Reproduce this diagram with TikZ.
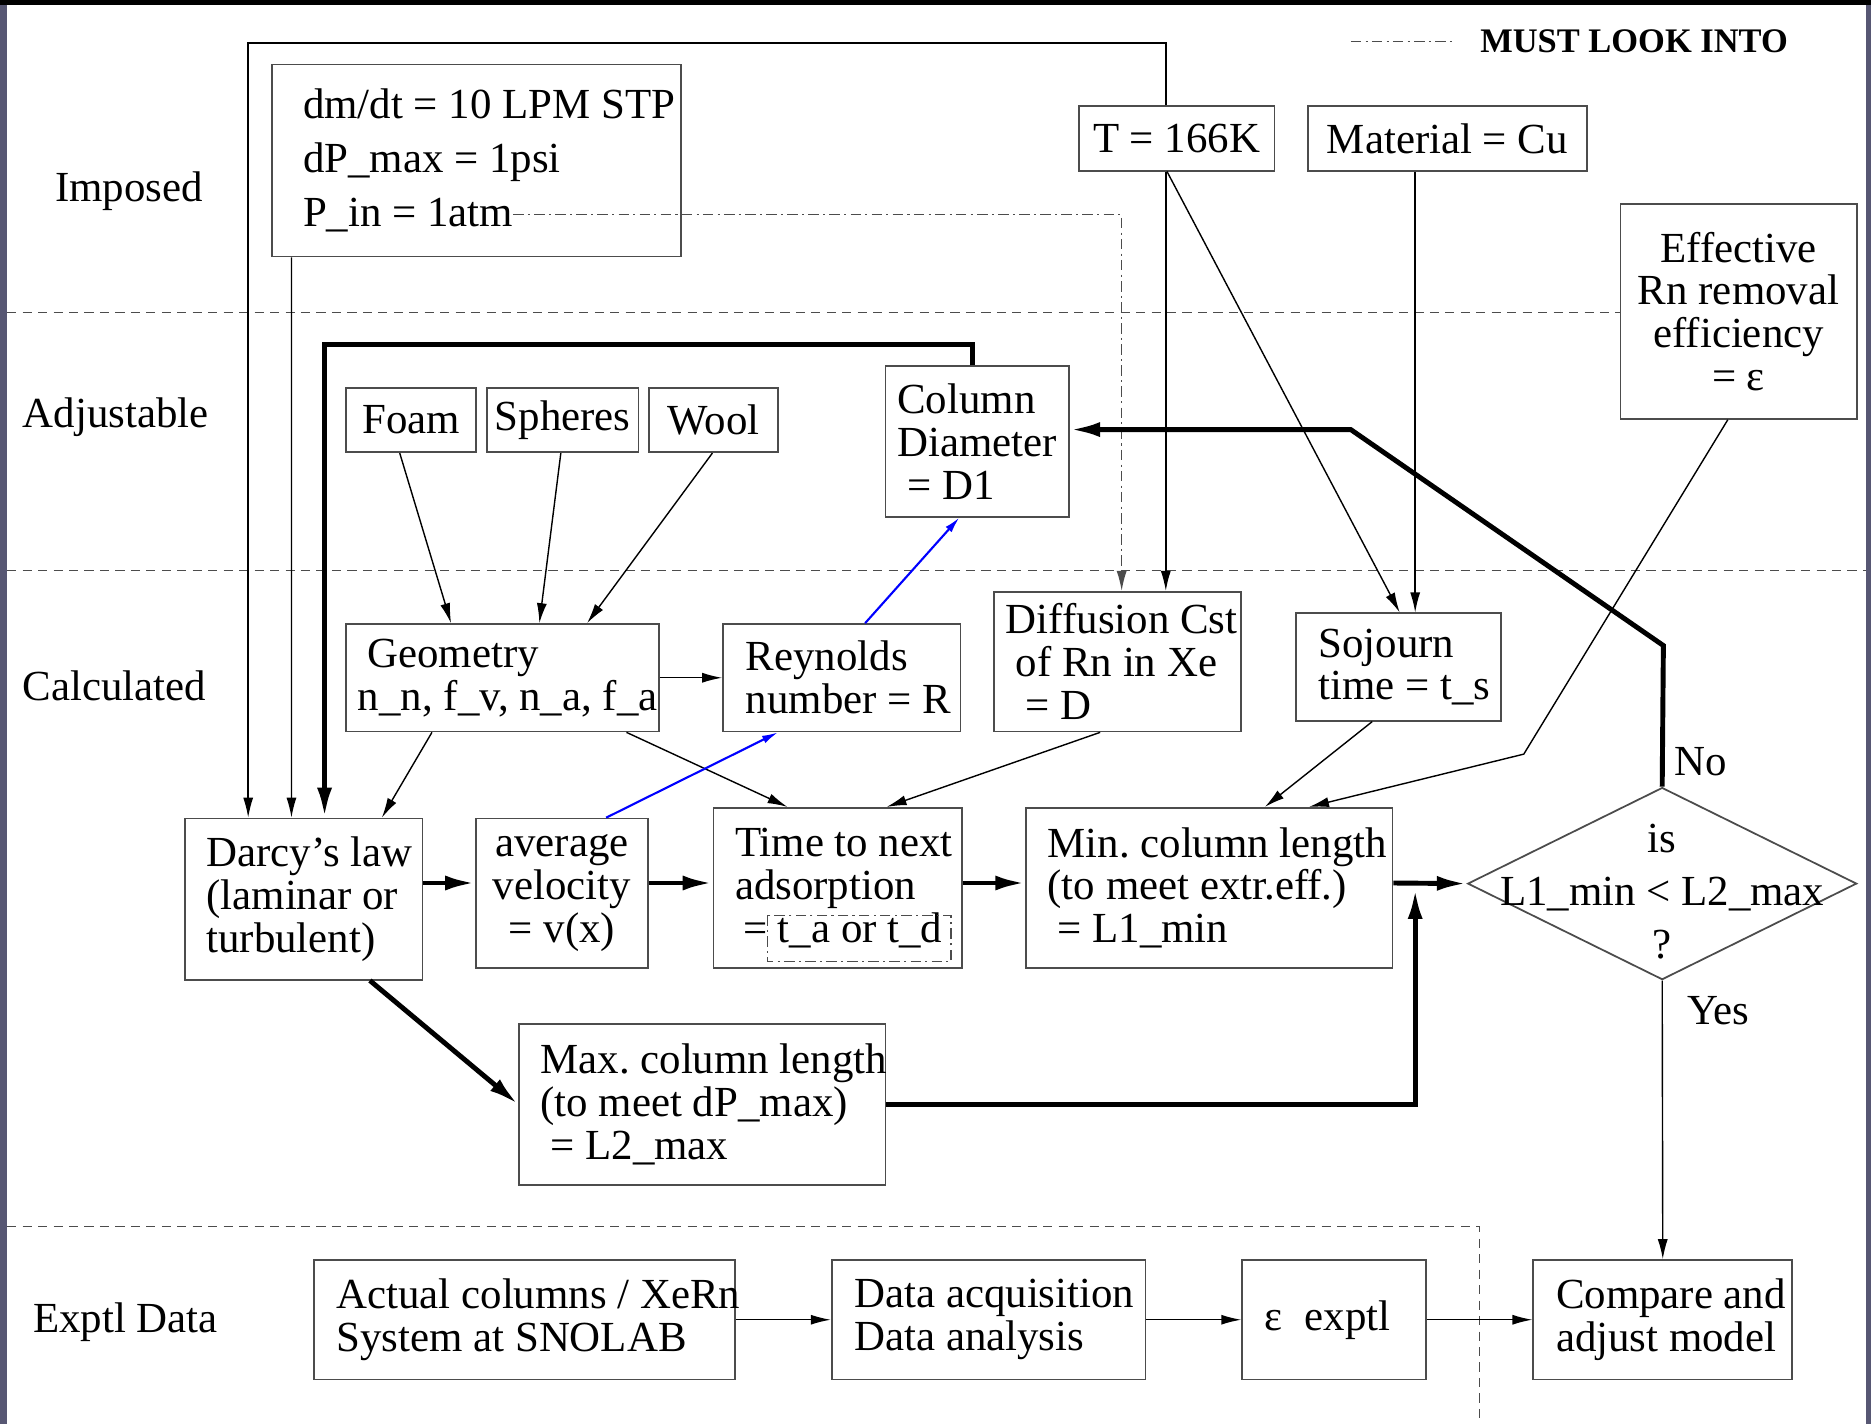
\documentclass[tikz,border=0pt]{standalone}
\usepackage{fontspec}
\setmainfont{Liberation Serif}
\usetikzlibrary{calc}
\usetikzlibrary{arrows.meta}
\usetikzlibrary{shapes.geometric}
\def\pxu{0.011932cm}
\newcommand{\figfont}{\fontsize{12.2}{12.2}\selectfont}
\newcommand{\bl}[1]{\mbox{\spaceskip=0pt\xspaceskip=0pt\frenchspacing #1}}
\definecolor{framegray}{rgb}{0.34,0.34,0.45}
\tikzset{
  blk/.style={draw=black!70, line width=0.5pt, align=left, inner sep=0pt, font=\figfont},
  tbx/.style 2 args={blk, inner xsep=#1, text width=#2},
  thinarr/.style={line width=0.4pt, -{Latex[length=0.2cm,width=0.1cm]}},
  thickarr/.style={line width=1.4pt, -{Latex[length=0.3cm,width=0.15cm]}},
  bluearr/.style={blue, line width=0.6pt, -{Latex[length=0.16cm,width=0.08cm]}},
  mustlook/.style={black!70, line width=0.4pt, dash pattern=on 3pt off 1.2pt on 0.6pt off 1.2pt},
  rowline/.style={black!70, line width=0.4pt, dash pattern=on 2.6pt off 1.8pt}
}

\begin{document}
\begin{tikzpicture}[x=\pxu, y=-\pxu]
\useasboundingbox (0,0) rectangle (1568,1193);
% frame
\fill[framegray] (0,0) rectangle (1568,1193);
\fill[black] (0,0) rectangle (1568,4.5);
\fill[white] (6,4.5) rectangle (1564,1193);

% row labels and separators
\node[font=\figfont] (lblimposed) at (108,160) {Imposed};
\node[font=\figfont] (lbladjust) at (97,350) {Adjustable};
\node[font=\figfont] (lblcalc) at (96,575) {Calculated};
\node[font=\figfont] (lblexptl) at (105,1108) {Exptl Data};
\draw[rowline] (6,262) -- (1358,262);
\draw[rowline] (6,478) -- (1564,478);
\draw[rowline] (6,1028) -- (1240,1028) -- (1240,1193);

% legend
\coordinate (legA) at (1132,35);
\node[font=\fontsize{9.8}{10}\selectfont\bfseries, anchor=west, inner sep=0pt] (legend) at (1240,35) {MUST LOOK INTO};
\draw[mustlook] (legA) -- ++(88,0);

% imposed
\node[tbx={0.3102cm}{3.4722cm}, minimum height=161*\pxu, font=\fontsize{12.2}{15.3}\selectfont] (imposed) at (399.5,134.5)
  {\bl{dm/dt = 10 LPM STP}\\\bl{dP\_max = 1psi}\\\bl{P\_in = 1atm}};
\node[blk, minimum width=164*\pxu, minimum height=54*\pxu] (tbox) at (986,116) {T = 166K};
\node[blk, minimum width=234*\pxu, minimum height=54*\pxu] (material) at (1213,116) {Material = Cu};
\node[blk, align=center, minimum width=198*\pxu, minimum height=180*\pxu] (effective) at (1457,261)
  {\bl{Effective}\\\bl{Rn removal}\\\bl{efficiency}\\\bl{= ε}};

% adjustable
\node[blk, minimum width=109*\pxu, minimum height=54*\pxu] (foam) at (344.5,352) {Foam};
\node[blk, minimum width=127*\pxu, minimum height=54*\pxu] (spheres) at (471.5,352) {Spheres};
\node[blk, minimum width=108*\pxu, minimum height=54*\pxu] (wool) at (598,352) {Wool};
\node[tbx={0.1193cm}{1.5989cm}, minimum height=126*\pxu] (column) at (819,370)
  {\bl{Column}\\\bl{Diameter}\\\bl{\hspace{0.1cm}= D1}};

% calculated
\node[tbx={0.1193cm}{2.8875cm}, minimum height=90*\pxu] (geometry) at (421,568)
  {\bl{\hspace{0.095cm}Geometry}\\\bl{n\_n, f\_v, n\_a, f\_a}};
\node[tbx={0.2267cm}{1.9211cm}, minimum height=90*\pxu] (reynolds) at (705.5,568)
  {\bl{Reynolds}\\\bl{number = R}};
\node[tbx={0.1193cm}{2.2313cm}, minimum height=117*\pxu] (diffusion) at (936.5,554.5)
  {\bl{Diffusion Cst}\\\bl{\hspace{0.1cm}of Rn in Xe}\\\bl{\hspace{0.2cm}= D}};
\node[tbx={0.2267cm}{1.5989cm}, minimum height=90*\pxu] (sojourn) at (1172,559)
  {\bl{Sojourn}\\\bl{time = t\_s}};
\node[tbx={0.2148cm}{1.9449cm}, minimum height=135*\pxu] (darcy) at (254.5,753.5)
  {\bl{Darcy's law}\\\bl{(laminar or}\\\bl{turbulent)}};
\node[blk, align=center, minimum width=144*\pxu, minimum height=125*\pxu] (velocity) at (471,748.5)
  {\bl{average}\\\bl{velocity}\\\bl{= v(x)}};
\node[tbx={0.2148cm}{2.0523cm}, minimum height=134*\pxu] (timenext) at (702,744)
  {\bl{Time to next}\\\bl{adsorption}\\\bl{\hspace{0.08cm}= t\_a or t\_d}};
\node[tbx={0.2148cm}{3.2336cm}, minimum height=134*\pxu] (minlen) at (1013.5,744)
  {\bl{Min. column length}\\\bl{(to meet extr.eff.)}\\\bl{\hspace{0.1cm}= L1\_min}};
\node[draw=black!70, line width=0.5pt, diamond, inner sep=0pt, minimum width=326*\pxu, minimum height=161*\pxu,
  label={[font=\fontsize{12.2}{15.1}\selectfont, align=center, yshift=-7*\pxu]center:\bl{is}\\\bl{L1\_min < L2\_max}\\\bl{?}}] (decide) at (1393,740.5) {};
\node[tbx={0.2148cm}{3.2336cm}, minimum height=135*\pxu] (maxlen) at (588.5,925.5)
  {\bl{Max. column length}\\\bl{(to meet dP\_max)}\\\bl{\hspace{0.1cm}= L2\_max}};
\draw[mustlook] (643,767) rectangle (797,806);

% experimental data
\node[tbx={0.2267cm}{3.7586cm}, minimum height=100*\pxu] (actual) at (439.5,1106)
  {\bl{Actual columns / XeRn}\\\bl{System at SNOLAB}};
\node[tbx={0.2267cm}{2.6847cm}, minimum height=100*\pxu] (acquisition) at (828.5,1106)
  {\bl{Data acquisition}\\\bl{Data analysis}};
\node[tbx={0.2267cm}{1.3841cm}, minimum height=100*\pxu] (epsexp) at (1118,1106)
  {\bl{ε\hspace{0.22cm}exptl}};
\node[tbx={0.2267cm}{2.1358cm}, minimum height=100*\pxu] (compare) at (1393.5,1106)
  {\bl{Compare and}\\\bl{adjust model}};

% thin connectors
\coordinate (tloop) at (208,36);
\coordinate (pin) at (430,180);
\coordinate (effbend) at (1277,632);
\draw[thinarr] ([xshift=-9*\pxu]tbox.north) |- (tloop) -- (tloop |- darcy.north);
\draw[thinarr] ([xshift=17*\pxu]imposed.south west) -- ([xshift=90*\pxu]darcy.north west);
\draw[thinarr, mustlook] (pin) -| ([xshift=3.5*\pxu]diffusion.north);
\draw[thinarr] ([xshift=-9*\pxu]tbox.south) -- ([xshift=40.5*\pxu]diffusion.north);
\draw[thinarr] ([xshift=-8*\pxu]tbox.south) -- ([xshift=1*\pxu]sojourn.north);
\draw[thinarr] ([xshift=-27*\pxu]material.south) -- ([xshift=14*\pxu]sojourn.north);
\draw[thinarr] ([xshift=-9*\pxu]effective.south) -- (effbend) -- ([xshift=83.5*\pxu]minlen.north);
\draw[thinarr] ([xshift=-9.5*\pxu]foam.south) -- ([xshift=-43*\pxu]geometry.north);
\draw[thinarr] ([xshift=-1.5*\pxu]spheres.south) -- ([xshift=31*\pxu]geometry.north);
\draw[thinarr] ([xshift=-1*\pxu]wool.south) -- ([xshift=71*\pxu]geometry.north);
\draw[thinarr] (geometry.east) -- (reynolds.west);
\draw[thinarr] ([xshift=-59*\pxu]geometry.south) -- ([xshift=65.5*\pxu]darcy.north);
\draw[thinarr] ([xshift=104*\pxu]geometry.south) -- ([xshift=-42*\pxu]timenext.north);
\draw[thinarr] ([xshift=-14.5*\pxu]diffusion.south) -- ([xshift=41*\pxu]timenext.north);
\draw[thinarr] ([xshift=-22*\pxu]sojourn.south) -- ([xshift=46.5*\pxu]minlen.north);
\draw[bluearr] ([xshift=19.5*\pxu]reynolds.north) -- ([xshift=-15*\pxu]column.south);
\draw[bluearr] ([xshift=37*\pxu]velocity.north) -- ([xshift=-53.5*\pxu]reynolds.south);
\draw[thinarr] (decide.south) -- (compare.north);
\node[font=\figfont] (yes) at (1440,847) {Yes};
\draw[thinarr] (actual.east) -- (acquisition.west);
\draw[thinarr] (acquisition.east) -- (epsexp.west);
\draw[thinarr] (epsexp.east) -- (compare.west);

% thick connectors
\coordinate (thkcorner) at (272,289);
\coordinate (nobend1) at (1394,541);
\coordinate (nobend2) at (1132,360);
\coordinate (join) at (1186,745);
\draw[thickarr] ([xshift=-4*\pxu]column.north) |- (thkcorner) -- (thkcorner |- darcy.north);
\draw[thickarr] ([yshift=13.5*\pxu]darcy.east) -- ([yshift=8.5*\pxu]velocity.west);
\draw[thickarr] ([yshift=8.5*\pxu]velocity.east) -- ([yshift=4*\pxu]timenext.west);
\draw[thickarr] ([yshift=4*\pxu]timenext.east) -- ([yshift=4*\pxu]minlen.west);
\draw[thickarr] ([yshift=4*\pxu]minlen.east) -- (decide.west);
\draw[thickarr] (decide.north) -- (nobend1) -- (nobend2) -- ([yshift=10*\pxu]column.east);
\node[font=\figfont] (no) at (1425,638) {No};
\draw[thickarr] ([xshift=55.5*\pxu]darcy.south) -- (maxlen.west);
\draw[thickarr] (maxlen.east) -| (join);
\end{tikzpicture}
\end{document}
